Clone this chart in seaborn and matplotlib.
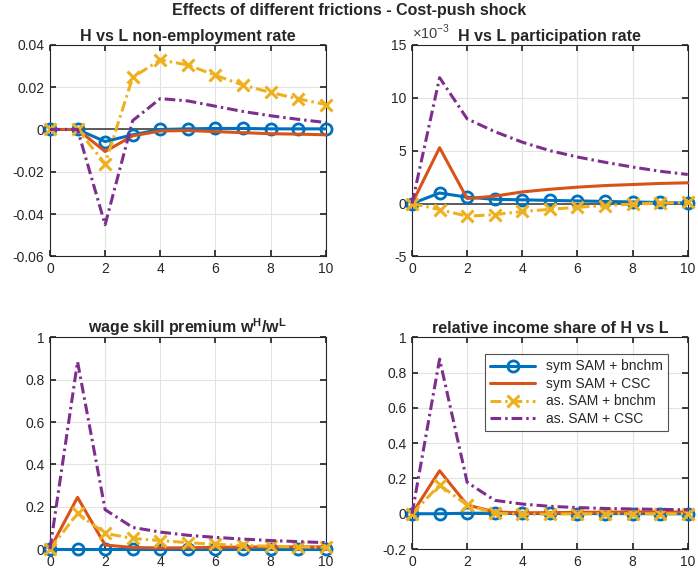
import numpy as np
import pandas as pd
import seaborn as sns
import matplotlib.pyplot as plt

# horizon (quarters)
periods = list(range(11))
labels = ["sym SAM + bnchm", "sym SAM + CSC", "as. SAM + bnchm", "as. SAM + CSC"]

# H vs L non-employment rate
nonemp_sym_bn = [0, 0, -0.0057, -0.0025, 0.0, 0.0003, 0.0005, 0.0005, 0.0003, 0.0003, 0.0003]
nonemp_sym_csc = [0, 0, -0.0104, -0.003, -0.0007, -0.0005, -0.001, -0.0015, -0.002, -0.0022, -0.0025]
nonemp_as_bn = [0, 0, -0.0162, 0.0246, 0.0329, 0.0305, 0.0256, 0.021, 0.0175, 0.0145, 0.0118]
nonemp_as_csc = [0, 0, -0.045, 0.0042, 0.0146, 0.0135, 0.011, 0.0085, 0.0065, 0.0048, 0.0033]

# H vs L participation rate (x 1e-3)
part_sym_bn = [0, 1.0, 0.6, 0.4, 0.35, 0.3, 0.25, 0.2, 0.15, 0.1, 0.05]
part_sym_csc = [0, 5.28, 0.47, 0.7, 1.1, 1.35, 1.55, 1.7, 1.8, 1.9, 1.96]
part_as_bn = [0, -0.57, -1.2, -1.04, -0.75, -0.55, -0.35, -0.2, -0.05, 0.05, 0.1]
part_as_csc = [0, 11.9, 8.0, 6.8, 5.8, 5.0, 4.4, 3.9, 3.45, 3.05, 2.75]

# wage skill premium
wage_sym_bn = [0, 0, 0, 0, 0, 0, 0, 0, 0, 0, 0]
wage_sym_csc = [0, 0.244, 0.019, 0.007, 0.005, 0.006, 0.008, 0.009, 0.01, 0.01, 0.01]
wage_as_bn = [0, 0.168, 0.074, 0.05, 0.04, 0.03, 0.022, 0.017, 0.013, 0.01, 0.008]
wage_as_csc = [0, 0.885, 0.186, 0.102, 0.08, 0.065, 0.055, 0.047, 0.04, 0.035, 0.03]

# relative income share
inc_sym_bn = [0, 0, 0.003, 0.003, 0.002, 0.002, 0.001, 0.001, 0.001, 0.0, 0.0]
inc_sym_csc = [0, 0.244, 0.05, 0.01, 0.005, 0.006, 0.008, 0.009, 0.01, 0.01, 0.01]
inc_as_bn = [0, 0.163, 0.049, 0.003, -0.003, -0.002, 0, 0, 0, 0, 0]
inc_as_csc = [0, 0.877, 0.178, 0.076, 0.055, 0.042, 0.035, 0.03, 0.027, 0.025, 0.022]

colors = ["#0072BD", "#D95319", "#EDB120", "#7E2F8E"]
dashdot = (0, (3.5, 1.3, 0.8, 1.3))
styles = [dict(linestyle="-", marker="o", markersize=8, markeredgewidth=2),
          dict(linestyle="-", marker="None"),
          dict(linestyle=dashdot, marker="x", markersize=9, markeredgewidth=2.2),
          dict(linestyle=dashdot, marker="None")]

sns.set_theme(style="whitegrid")
plt.rcParams["font.family"] = ["Liberation Sans", "DejaVu Sans"]
plt.rcParams["mathtext.fontset"] = "custom"
plt.rcParams["mathtext.bf"] = "Liberation Sans:bold"
plt.rcParams["mathtext.rm"] = "Liberation Sans"

fig = plt.figure(figsize=(6.98, 5.75), dpi=100)
w, h = 0.395, 0.368
pos = [[0.0716, 0.554, w, h], [0.5903, 0.554, w, h],
       [0.0716, 0.0452, w, h], [0.5903, 0.0452, w, h]]

panels = [
    ("H vs L non-employment rate", [nonemp_sym_bn, nonemp_sym_csc, nonemp_as_bn, nonemp_as_csc],
     (-0.06, 0.04), np.arange(-0.06, 0.041, 0.02)),
    ("H vs L participation rate", [part_sym_bn, part_sym_csc, part_as_bn, part_as_csc],
     (-5, 15), np.arange(-5, 16, 5)),
    ("wage skill premium $\\mathbf{w^H/w^L}$", [wage_sym_bn, wage_sym_csc, wage_as_bn, wage_as_csc],
     (0, 1), np.arange(0, 1.01, 0.2)),
    ("relative income share of H vs L", [inc_sym_bn, inc_sym_csc, inc_as_bn, inc_as_csc],
     (-0.2, 1), np.arange(-0.2, 1.01, 0.2)),
]

for i, (title, series, ylim, yticks) in enumerate(panels):
    ax = fig.add_axes(pos[i])
    ax.axhline(0, color="#505050", lw=1.3, zorder=1)
    for k, vals in enumerate(series):
        df = pd.DataFrame({"t": periods, "v": vals})
        sns.lineplot(data=df, x="t", y="v", ax=ax, color=colors[k], lw=2.2,
                     label=labels[k], zorder=3 + k)
        line = ax.lines[-1]
        line.set(markerfacecolor="none", markeredgecolor=colors[k], clip_on=False, **styles[k])
    ax.set_xlim(0, 10)
    ax.set_ylim(*ylim)
    ax.set_xticks(range(0, 11, 2))
    ax.set_yticks(yticks)
    ax.set_yticklabels([f"{round(v, 6):g}" for v in yticks])
    ax.set_xlabel("")
    ax.set_ylabel("")
    ax.set_title(title, fontsize=11.5, fontweight="bold", pad=3)
    ax.grid(True, color="#e3e3e3", lw=0.8)
    ax.tick_params(labelsize=10, colors="#262626", direction="in", length=4,
                   left=True, bottom=True, top=True, right=True, pad=4)
    for s in ax.spines.values():
        s.set_color("#262626")
        s.set_linewidth(0.8)
    if i == 3:
        leg = ax.legend(loc="upper right", bbox_to_anchor=(0.955, 0.955), fontsize=10,
                        frameon=True, fancybox=False, edgecolor="#262626",
                        handlelength=3.2, borderpad=0.4, labelspacing=0.25)
        leg.get_frame().set_linewidth(0.8)
        leg.set_zorder(10)
    else:
        ax.get_legend().remove()
    if i == 1:
        ax.text(0.0, 1.015, "$\\times$10$^{-3}$", transform=ax.transAxes, fontsize=10.5,
                color="#404040", ha="left", va="bottom")

fig.suptitle("Effects of different frictions - Cost-push shock", fontsize=11.5,
             fontweight="bold", y=0.995)
fig.savefig("out.png", dpi=100)
